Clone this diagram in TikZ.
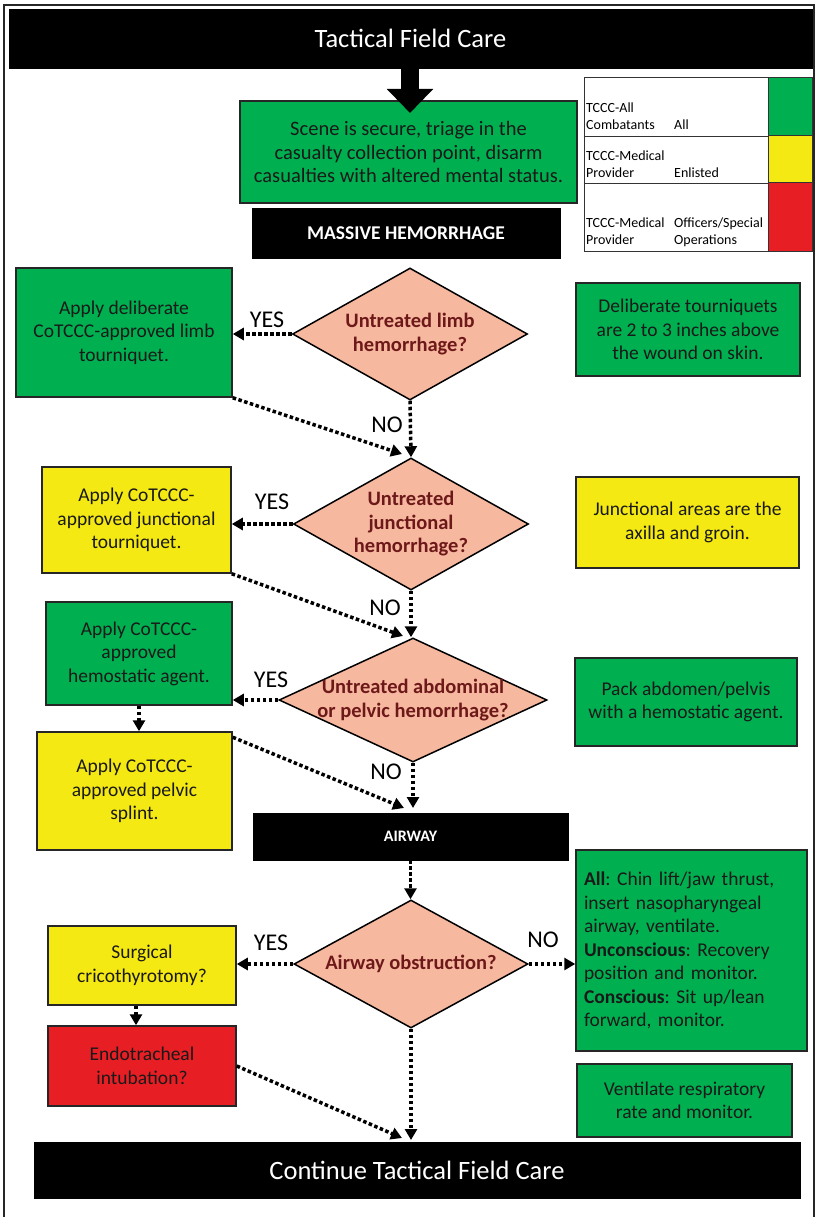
\documentclass[tikz,border=0pt]{standalone}
\usepackage{fontspec}
\setmainfont{Carlito}
\usetikzlibrary{shapes.geometric,arrows.meta}
\definecolor{tgreen}{RGB}{0,176,80}
\definecolor{tyellow}{RGB}{245,233,20}
\definecolor{tred}{RGB}{232,30,37}
\definecolor{tsalmon}{RGB}{247,184,160}
\definecolor{tdred}{RGB}{110,25,25}
\frenchspacing
\begin{document}
\frenchspacing
\begin{tikzpicture}[x=1pt,y=-1pt,
  box/.style={draw=black!85, line width=1.5pt, align=center, inner sep=0pt,
    font=\fontsize{19.5}{23.5}\selectfont, text=black!90},
  gbox/.style={box, fill=tgreen},
  ybox/.style={box, fill=tyellow},
  rbox/.style={box, fill=tred},
  bar/.style={fill=black, draw=black, text=white, inner sep=0pt},
  dia/.style={diamond, draw=black, line width=1.5pt, fill=tsalmon, inner sep=0pt},
  dtext/.style={font=\bfseries\fontsize{20.5}{23.5}\selectfont, text=tdred, align=center},
  lab/.style={font=\fontsize{24}{28}\selectfont, inner sep=0pt},
  leg/.style={font=\fontsize{14}{17}\selectfont, anchor=base west, inner sep=0pt},
  arr/.style={line width=3.5pt, dash pattern=on 3.5pt off 2.5pt, -{Triangle[length=11pt,width=12pt]}}
]
\useasboundingbox (0,0) rectangle (817,1217);
\fill[white] (0,0) rectangle (817,1217);
% frame
\draw[line width=2pt, black!85] (4,1217) -- (4,5) -- (814,5) -- (814,1217);

% title bars
\node[bar, minimum width=803pt, minimum height=59pt, font=\fontsize{26.5}{30}\selectfont] (title) at (410.5,38.5) {Tactical Field Care};
\node[bar, minimum width=766pt, minimum height=56pt, font=\fontsize{26.5}{30}\selectfont] (cont) at (417,1170) {Continue Tactical Field Care};

% scene
\node[gbox, minimum width=337pt, minimum height=102pt, font=\fontsize{20.5}{23.5}\selectfont] (scene) at (408.5,152) {Scene is secure, triage in the\\casualty collection point, disarm\\casualties with altered mental status.};
\draw[line width=18pt, -{Triangle[length=24pt,width=45pt]}] (title.south -| 410,0) -- (410,113);

\node[bar, minimum width=308pt, minimum height=50pt, font=\bfseries\fontsize{19.5}{22}\selectfont] (mh) at (406,233) {MASSIVE HEMORRHAGE};

% legend
\node[draw=black!80, line width=1pt, minimum width=228pt, minimum height=173pt, inner sep=0pt] (legend) at (698,164.5) {};
\node[fill=tgreen, draw=black!80, line width=1pt, minimum width=44pt, minimum height=58pt, inner sep=0pt] (lc1) at (790,107) {};
\node[fill=tyellow, draw=black!80, line width=1pt, minimum width=44pt, minimum height=47pt, inner sep=0pt] (lc2) at (790,159.5) {};
\node[fill=tred, draw=black!80, line width=1pt, minimum width=44pt, minimum height=68pt, inner sep=0pt] (lc3) at (790,217) {};
\draw[black!80, line width=1pt] (legend.west |- lc1.south) -- (lc1.south west);
\draw[black!80, line width=1pt] (legend.west |- lc2.south) -- (lc2.south west);
\node[leg] (l1a) at (586,113) {TCCC-All};
\node[leg] (l1b) at (586,130) {Combatants};
\node[leg] (l1c) at (674,130) {All};
\node[leg] (l2a) at (586,161) {TCCC-Medical};
\node[leg] (l2b) at (586,178) {Provider};
\node[leg] (l2c) at (674,178) {Enlisted};
\node[leg] (l3a) at (586,227) {TCCC-Medical};
\node[leg] (l3b) at (586,244) {Provider};
\node[leg] (l3c) at (674,227) {Officers/Special};
\node[leg] (l3d) at (674,244) {Operations};

% row 1
\node[gbox, minimum width=216pt, minimum height=129pt] (g1) at (124,332.5) {Apply deliberate\\CoTCCC-approved limb\\tourniquet.};
\node[dia, minimum width=235pt, minimum height=132pt, label={[dtext]center:Untreated limb\\hemorrhage?}] (d1) at (410,334) {};
\node[gbox, minimum width=224pt, minimum height=93pt] (r1) at (688,329.5) {Deliberate tourniquets\\are 2 to 3 inches above\\the wound on skin.};
\node[lab] (yes1) at (267,320) {YES};
\node[lab] (no1) at (387,425) {NO};

% row 2
\node[ybox, minimum width=189pt, minimum height=106pt] (y2) at (136.5,520) {Apply CoTCCC-\\approved junctional\\tourniquet.};
\node[dia, minimum width=235pt, minimum height=132pt, label={[dtext]center:Untreated\\junctional\\hemorrhage?}] (d2) at (411,524) {};
\node[ybox, minimum width=223pt, minimum height=91pt] (r2) at (687.5,522.5) {Junctional areas are the\\axilla and groin.};
\node[lab] (yes2) at (272,502) {YES};
\node[lab] (no2) at (385,608) {NO};

% row 3
\node[gbox, minimum width=186pt, minimum height=103pt] (g3) at (139,653.5) {Apply CoTCCC-\\approved\\hemostatic agent.};
\node[dia, minimum width=268pt, minimum height=124pt, label={[dtext]center:Untreated abdominal\\or pelvic hemorrhage?}] (d3) at (413,700) {};
\node[gbox, minimum width=222pt, minimum height=88pt] (r3) at (686,702) {Pack abdomen/pelvis\\with a hemostatic agent.};
\node[ybox, minimum width=195pt, minimum height=118pt] (y4) at (134.5,791) {Apply CoTCCC-\\approved pelvic\\splint.};
\node[lab] (yes3) at (271,680) {YES};
\node[lab] (no3) at (386,772) {NO};

\node[bar, minimum width=315pt, minimum height=47pt, font=\bfseries\fontsize{16}{20}\selectfont] (airway) at (410.5,836.5) {AIRWAY};

% row 4
\node[dia, minimum width=234pt, minimum height=128pt, label={[dtext]center:Airway obstruction?}] (d4) at (411,964) {};
\node[ybox, minimum width=188pt, minimum height=79pt] (y5) at (142,965.5) {Surgical\\cricothyrotomy?};
\node[rbox, minimum width=188pt, minimum height=80pt] (red) at (142,1066) {Endotracheal\\intubation?};
\node[gbox, minimum width=231pt, minimum height=201pt, text width=215pt, inner xsep=8pt, align=left] (g6) at (691.5,950.5) {\textbf{All}: Chin lift/jaw thrust,\\insert nasopharyngeal\\airway, ventilate.\\\textbf{Unconscious}: Recovery\\position and monitor.\\\textbf{Conscious}: Sit up/lean\\forward, monitor.};
\node[gbox, minimum width=215pt, minimum height=73pt] (g7) at (684.5,1100.5) {Ventilate respiratory\\rate and monitor.};
\node[lab] (yes4) at (271,943) {YES};
\node[lab] (no4) at (543,940) {NO};

% connector ends
\coordinate (e1) at (402,454);
\coordinate (e2) at (403,636);
\coordinate (e3) at (404,808);
\coordinate (e4) at (402,1138);

% connectors
\draw[arr] (d1.west) -- (g1.east |- d1.west);
\draw[arr] (d1.south) -- (d2.north);
\draw[arr] (g1.south east) -- (e1);
\draw[arr] (d2.west) -- (y2.east |- d2.west);
\draw[arr] (d2.south) -- (d3.north -| d2.south);
\draw[arr] (y2.south east) -- (e2);
\draw[arr] (d3.west) -- (g3.east |- d3.west);
\draw[arr] (g3.south) -- (g3.south |- y4.north);
\draw[arr] (d3.south) -- (d3.south |- e3);
\draw[arr] ([yshift=-6pt]y4.north east) -- (e3);
\draw[arr] (airway.south) -- (d4.north -| airway.south);
\draw[arr] (d4.west) -- (y5.east |- d4.west);
\draw[arr] (d4.east) -- (g6.west |- d4.east);
\draw[arr] ([xshift=-6pt]y5.south) -- ([xshift=-6pt]red.north);
\draw[arr] (red.east) -- (e4);
\draw[arr] (d4.south) -- (d4.south |- 0,1140);
\end{tikzpicture}
\end{document}
